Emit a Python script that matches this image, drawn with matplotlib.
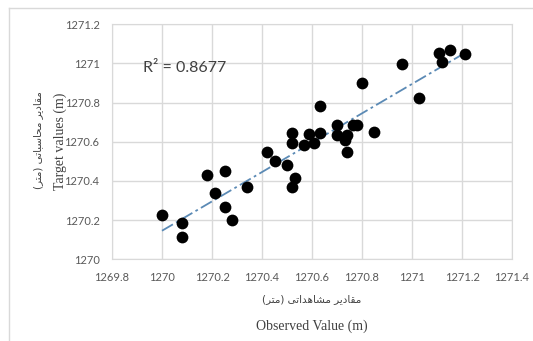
import numpy as np
import matplotlib
matplotlib.use("Agg")
from matplotlib import pyplot as plt

# observed (x) and calculated/target (y) values
observed = [1270.00, 1270.08, 1270.08, 1270.18, 1270.25, 1270.21, 1270.34, 1270.25, 1270.28,
            1270.80, 1270.63, 1270.52, 1270.52, 1270.59, 1270.63, 1270.61, 1270.57, 1270.42,
            1270.45, 1270.50, 1270.53, 1270.52, 1270.70, 1270.70, 1270.74, 1270.73, 1270.74,
            1270.765, 1270.78, 1270.85, 1270.96, 1271.03, 1271.11, 1271.15, 1271.12, 1271.21]
target = [1270.226, 1270.187, 1270.112, 1270.430, 1270.452, 1270.337, 1270.370, 1270.265, 1270.200,
          1270.898, 1270.784, 1270.643, 1270.592, 1270.638, 1270.646, 1270.595, 1270.582, 1270.549,
          1270.503, 1270.481, 1270.413, 1270.370, 1270.684, 1270.634, 1270.634, 1270.609, 1270.546,
          1270.685, 1270.685, 1270.648, 1270.995, 1270.823, 1271.056, 1271.071, 1271.005, 1271.046]

x_ticks = [1269.8, 1270.0, 1270.2, 1270.4, 1270.6, 1270.8, 1271.0, 1271.2, 1271.4]
y_ticks = [1270.0, 1270.2, 1270.4, 1270.6, 1270.8, 1271.0, 1271.2]
r2_text = "R\u00b2 = 0.8677"

# persian labels, written in presentation forms and visual order (no shaping in matplotlib)
# "مقادیر محاسباتی (متر)"
fa_ylabel = "(\uFEAE\uFE98\uFEE3) \uFEF0\uFE97\uFE8E\uFE92\uFEB3\uFE8E\uFEA4\uFEE3 \uFEAE\uFEF3\uFEA9\uFE8E\uFED8\uFEE3"
# "مقادیر مشاهداتی (متر)"
fa_xlabel = "(\uFEAE\uFE98\uFEE3) \uFEF0\uFE97\uFE8D\uFEAA\uFEEB\uFE8E\uFEB8\uFEE3 \uFEAE\uFEF3\uFEA9\uFE8E\uFED8\uFEE3"

W, H = 533, 341
fig = plt.figure(figsize=(W / 100, H / 100), dpi=100)
ax = fig.add_axes([112 / W, 1 - 259.3 / H, 400 / W, 235 / H])

grid_c = "#d9d9d9"
ax.scatter(observed, target, s=72, color="black", zorder=3, linewidths=0)

# linear trendline
k, b = np.polyfit(observed, target, 1)
xs = np.array([min(observed), max(observed)])
ax.plot(xs, k * xs + b, color="#5b8ab5", lw=1.3, ls=(0, (7, 2, 1.5, 2)), zorder=2)

ax.set_xlim(1269.8, 1271.4)
ax.set_ylim(1270.0, 1271.2)
ax.set_xticks(x_ticks)
ax.set_yticks(y_ticks)
ax.set_xticklabels([f"{v:g}" for v in x_ticks])
ax.set_yticklabels([f"{v:g}" for v in y_ticks])
ax.tick_params(length=0, labelsize=8, labelcolor="#595959", pad=9)
for lab in ax.get_xticklabels() + ax.get_yticklabels():
    lab.set_family("Lato")
ax.grid(True, color=grid_c, lw=1)
ax.set_axisbelow(True)
for sp in ax.spines.values():
    sp.set_color(grid_c)

ax.text(1269.924, 1270.976, r2_text, fontsize=11.5, color="#404040", family="Lato", va="center")

# axis titles
fig.text(60 / W, 1 - 141 / H, "Target values (m)", rotation=90, ha="center", va="center",
         family="Liberation Serif", fontsize=10, color="#404040")
fig.text(38 / W, 1 - 140 / H, fa_ylabel, rotation=90, ha="center", va="center",
         family=["DejaVu Sans"], fontsize=7.5, color="#404040")
fig.text(312 / W, 1 - 299 / H, fa_xlabel, ha="center", va="center",
         family=["DejaVu Sans"], fontsize=7.5, color="#404040")
fig.text(312 / W, 1 - 326 / H, "Observed Value (m)", ha="center", va="center",
         family="Liberation Serif", fontsize=10, color="#404040")

# outer chart frame (cropped at right and bottom)
fig.add_artist(plt.Line2D([9 / W, 1], [1 - 8 / H, 1 - 8 / H], color=grid_c, lw=1))
fig.add_artist(plt.Line2D([9 / W, 9 / W], [0, 1 - 8 / H], color=grid_c, lw=1))

fig.savefig("out.png", dpi=100)
